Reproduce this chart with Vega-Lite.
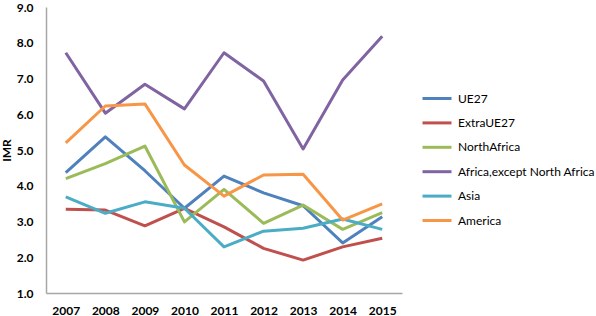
{
  "$schema": "https://vega.github.io/schema/vega-lite/v6.json",
  "autosize": "none",
  "width": 356,
  "height": 286,
  "padding": {"left": 46, "top": 7, "right": 194, "bottom": 23},
  "background": "white",
  "config": {"view": {"stroke": null}, "font": "Lato"},
  "data": {"values": [
    {"year": "2007", "series": "UE27", "value": 4.37},
    {"year": "2008", "series": "UE27", "value": 5.37},
    {"year": "2009", "series": "UE27", "value": 4.42},
    {"year": "2010", "series": "UE27", "value": 3.37},
    {"year": "2011", "series": "UE27", "value": 4.27},
    {"year": "2012", "series": "UE27", "value": 3.8},
    {"year": "2013", "series": "UE27", "value": 3.44},
    {"year": "2014", "series": "UE27", "value": 2.4},
    {"year": "2015", "series": "UE27", "value": 3.13},
    {"year": "2007", "series": "ExtraUE27", "value": 3.34},
    {"year": "2008", "series": "ExtraUE27", "value": 3.32},
    {"year": "2009", "series": "ExtraUE27", "value": 2.88},
    {"year": "2010", "series": "ExtraUE27", "value": 3.37},
    {"year": "2011", "series": "ExtraUE27", "value": 2.85},
    {"year": "2012", "series": "ExtraUE27", "value": 2.25},
    {"year": "2013", "series": "ExtraUE27", "value": 1.92},
    {"year": "2014", "series": "ExtraUE27", "value": 2.29},
    {"year": "2015", "series": "ExtraUE27", "value": 2.53},
    {"year": "2007", "series": "NorthAfrica", "value": 4.2},
    {"year": "2008", "series": "NorthAfrica", "value": 4.62},
    {"year": "2009", "series": "NorthAfrica", "value": 5.11},
    {"year": "2010", "series": "NorthAfrica", "value": 2.99},
    {"year": "2011", "series": "NorthAfrica", "value": 3.9},
    {"year": "2012", "series": "NorthAfrica", "value": 2.95},
    {"year": "2013", "series": "NorthAfrica", "value": 3.46},
    {"year": "2014", "series": "NorthAfrica", "value": 2.78},
    {"year": "2015", "series": "NorthAfrica", "value": 3.25},
    {"year": "2007", "series": "Africa,except North Africa", "value": 7.72},
    {"year": "2008", "series": "Africa,except North Africa", "value": 6.03},
    {"year": "2009", "series": "Africa,except North Africa", "value": 6.84},
    {"year": "2010", "series": "Africa,except North Africa", "value": 6.15},
    {"year": "2011", "series": "Africa,except North Africa", "value": 7.72},
    {"year": "2012", "series": "Africa,except North Africa", "value": 6.93},
    {"year": "2013", "series": "Africa,except North Africa", "value": 5.03},
    {"year": "2014", "series": "Africa,except North Africa", "value": 6.96},
    {"year": "2015", "series": "Africa,except North Africa", "value": 8.18},
    {"year": "2007", "series": "Asia", "value": 3.69},
    {"year": "2008", "series": "Asia", "value": 3.23},
    {"year": "2009", "series": "Asia", "value": 3.55},
    {"year": "2010", "series": "Asia", "value": 3.37},
    {"year": "2011", "series": "Asia", "value": 2.29},
    {"year": "2012", "series": "Asia", "value": 2.73},
    {"year": "2013", "series": "Asia", "value": 2.81},
    {"year": "2014", "series": "Asia", "value": 3.07},
    {"year": "2015", "series": "Asia", "value": 2.78},
    {"year": "2007", "series": "America", "value": 5.2},
    {"year": "2008", "series": "America", "value": 6.23},
    {"year": "2009", "series": "America", "value": 6.29},
    {"year": "2010", "series": "America", "value": 4.58},
    {"year": "2011", "series": "America", "value": 3.71},
    {"year": "2012", "series": "America", "value": 4.3},
    {"year": "2013", "series": "America", "value": 4.32},
    {"year": "2014", "series": "America", "value": 3.04},
    {"year": "2015", "series": "America", "value": 3.49}
  ]},
  "mark": {"type": "line", "strokeWidth": 3, "strokeJoin": "round"},
  "encoding": {
    "x": {
      "field": "year", "type": "ordinal",
      "scale": {"type": "point", "padding": 0.5},
      "axis": {
        "title": null, "labelAngle": 0, "ticks": false, "grid": false,
        "domainColor": "#a6a6a6", "domainWidth": 1.5,
        "labelFont": "Lato", "labelFontWeight": "bold", "labelFontSize": 12,
        "labelColor": "#000000", "labelPadding": 12
      }
    },
    "y": {
      "field": "value", "type": "quantitative",
      "scale": {"domain": [1, 9], "nice": false, "zero": false},
      "axis": {
        "title": "IMR", "values": [1, 2, 3, 4, 5, 6, 7, 8, 9], "format": ".1f",
        "ticks": false, "grid": false, "domainColor": "#a6a6a6", "domainWidth": 1.5,
        "labelFont": "Lato", "labelFontWeight": "bold", "labelFontSize": 12,
        "labelColor": "#000000", "labelPadding": 13,
        "titleFont": "Lato", "titleFontWeight": "bold", "titleFontSize": 12,
        "titleColor": "#000000", "titlePadding": 3
      }
    },
    "color": {
      "field": "series", "type": "nominal",
      "scale": {
        "domain": ["UE27", "ExtraUE27", "NorthAfrica", "Africa,except North Africa", "Asia", "America"],
        "range": ["#4F81BD", "#C0504D", "#9BBB59", "#8064A2", "#4BACC6", "#F79646"]
      },
      "legend": {
        "title": null, "orient": "none", "legendX": 375, "legendY": 75.5,
        "symbolType": "stroke", "symbolSize": 841, "symbolStrokeWidth": 3,
        "labelFont": "Lato", "labelFontSize": 12, "labelColor": "#000000",
        "labelOffset": 5, "rowPadding": 2.4,
        "labelExpr": "datum.label == 'Africa,except North Africa' ? datum.label : '\u00a0\u00a0' + datum.label"
      }
    }
  }
}
